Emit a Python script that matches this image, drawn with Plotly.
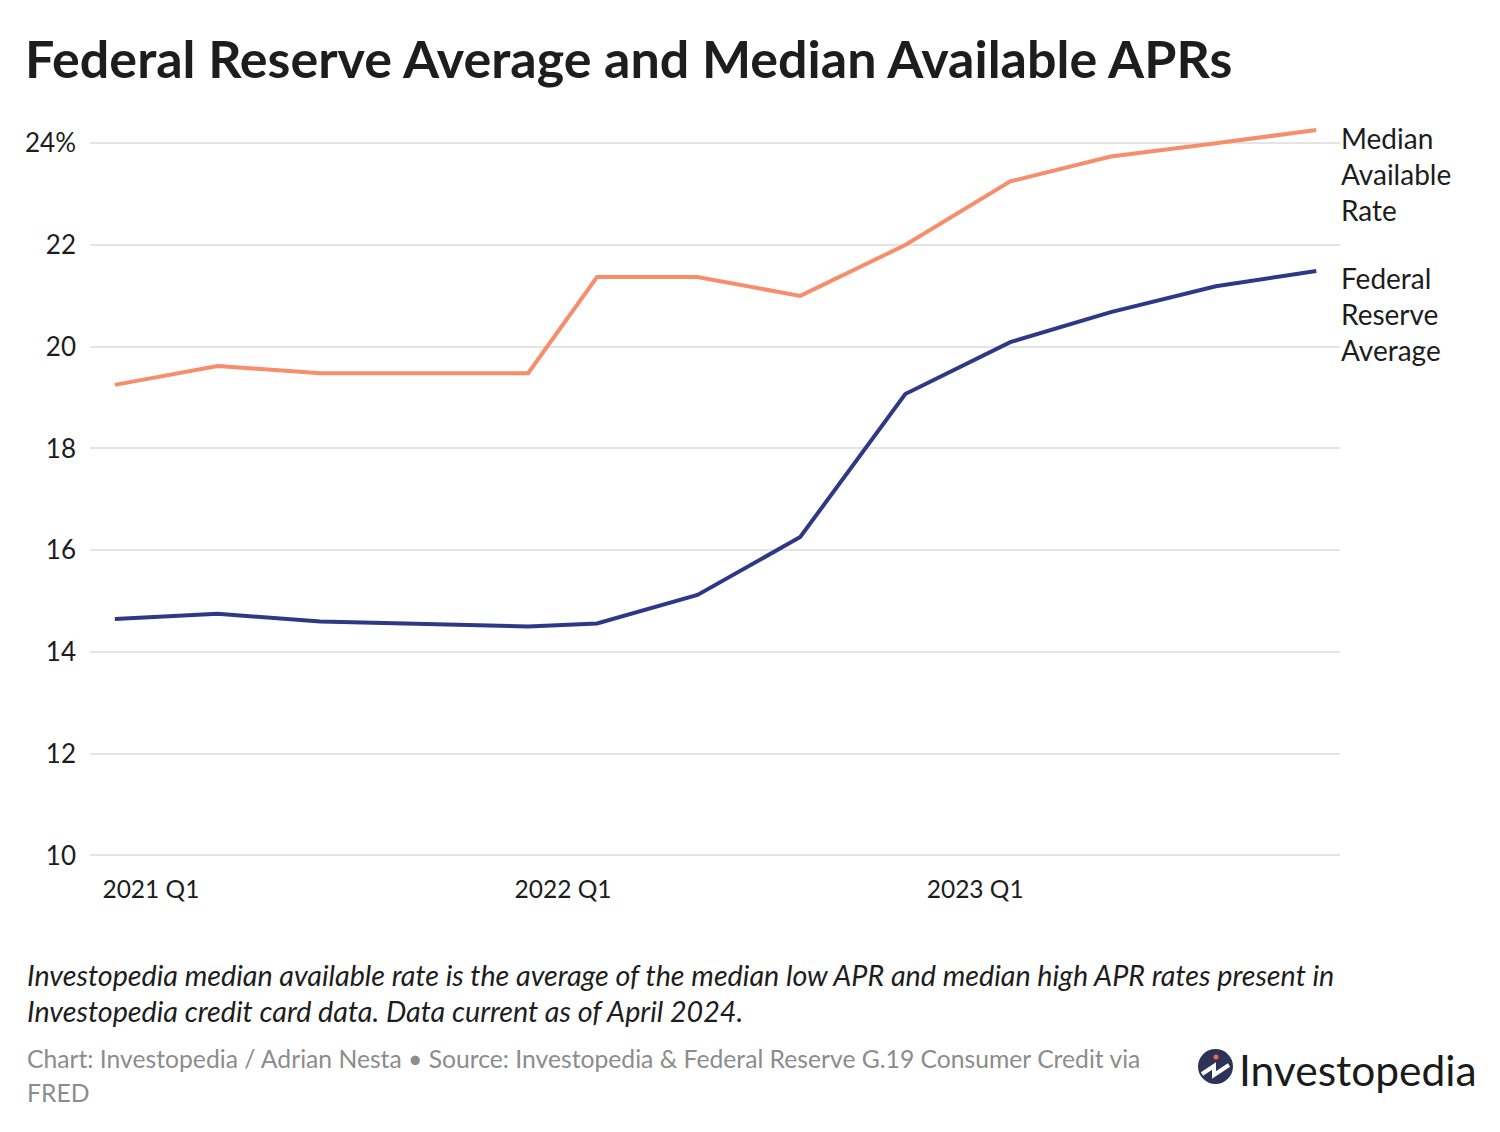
import plotly.graph_objects as go

# ---- data ----
dates = ["2021-01-12", "2021-04-13", "2021-07-13", "2021-10-14", "2022-01-13",
         "2022-03-15", "2022-06-12", "2022-09-11", "2022-12-13", "2023-03-16",
         "2023-06-13", "2023-09-14", "2023-12-12"]
median_rate = [19.25, 19.62, 19.48, 19.48, 19.48, 21.37, 21.37, 21.0, 22.0,
               23.25, 23.74, 24.0, 24.26]
fed_average = [14.65, 14.75, 14.6, 14.54, 14.5, 14.56, 15.12, 16.26, 19.07,
               20.09, 20.68, 21.19, 21.49]
x_tick_vals = ["2021-01-01", "2022-01-01", "2023-01-01"]
x_tick_text = ["2021 Q1", "2022 Q1", "2023 Q1"]
y_tick_vals = [10, 12, 14, 16, 18, 20, 22, 24]
y_tick_text = ["10", "12", "14", "16", "18", "20", "22", "24%"]

ORANGE = "#f88d6c"
BLUE = "#2e3886"
TEXT = "#1d1d1d"
FONT = "Lato"

OFF = 8  # page offset of the figure
W, H = 1500, 1132
L, R, T, B = 82, 168, 120, 282
PW, PH = W - L - R, H - T - B


def px(x):
    return (x - OFF - L) / PW


def py(y):
    return (H - B - (y - OFF)) / PH


fig = go.Figure()
fig.add_trace(go.Scatter(x=dates, y=median_rate, mode="lines",
                         line=dict(color=ORANGE, width=4), name="Median Available Rate"))
fig.add_trace(go.Scatter(x=dates, y=fed_average, mode="lines",
                         line=dict(color=BLUE, width=4), name="Federal Reserve Average"))

annotations = []
# series labels
for lines, yval, first in [(["Median", "Available", "Rate"], median_rate[-1], -8),
                           (["Federal", "Reserve", "Average"], fed_average[-1], -7)]:
    for i, t in enumerate(lines):
        annotations.append(dict(text=t, xref="paper", x=1.0, xanchor="left", xshift=-1,
                                yref="y", y=yval, yanchor="middle", yshift=first - 36 * i,
                                showarrow=False, font=dict(family=FONT, size=28, color=TEXT)))

# footnotes
notes = [("Investopedia median available rate is the average of the median low APR and median high APR rates present in", 975, TEXT, 28.7, True),
         ("Investopedia credit card data. Data current as of April 2024.", 1011, TEXT, 28.7, True),
         ("Chart: Investopedia / Adrian Nesta • Source: Investopedia & Federal Reserve G.19 Consumer Credit via", 1058, "#8c8c8c", 24.7, False),
         ("FRED", 1092, "#8c8c8c", 24.7, False)]
for t, yy, col, sz, it in notes:
    annotations.append(dict(text=f"<i>{t}</i>" if it else t, xref="paper", x=px(25), xanchor="left",
                            yref="paper", y=py(yy), yanchor="middle", showarrow=False,
                            font=dict(family=FONT, size=sz, color=col)))

# logo text
annotations.append(dict(text="Investopedia", xref="paper", x=px(1237), xanchor="left",
                        yref="paper", y=py(1069), yanchor="middle", showarrow=False,
                        font=dict(family=FONT, size=42.5, color="#1b1b1b")))

shapes = [
    dict(type="circle", xref="paper", yref="paper", x0=px(1198), x1=px(1233),
         y0=py(1084), y1=py(1049), fillcolor="#2c3357", line=dict(width=0)),
    dict(type="path", xref="paper", yref="paper",
         path=f"M {px(1202)},{py(1074)} L {px(1214)},{py(1066)} L {px(1214)},{py(1075)} L {px(1229)},{py(1065)}",
         line=dict(color="white", width=4)),
    dict(type="circle", xref="paper", yref="paper", x0=px(1213.5), x1=px(1218.5),
         y0=py(1059.5), y1=py(1054.5), fillcolor="#f26a3c", line=dict(width=0)),
]

fig.update_layout(
    width=W, height=H,
    margin=dict(l=L, r=R, t=T, b=B),
    paper_bgcolor="white", plot_bgcolor="white",
    showlegend=False,
    title=dict(text="<b>Federal Reserve Average and Median Available APRs</b>",
               x=(25 - OFF) / W, xref="container", xanchor="left",
               y=1 - (60 - OFF) / H, yref="container", yanchor="middle",
               font=dict(family=FONT, size=52, color=TEXT)),
    xaxis=dict(type="date", range=["2020-12-21", "2024-01-02"],
               tickvals=x_tick_vals, ticktext=x_tick_text,
               ticklabelposition="outside right", showgrid=False, zeroline=False,
               showline=False, ticks="", tickfont=dict(family=FONT, size=24.5, color=TEXT),
               ticklabelstandoff=14),
    yaxis=dict(range=[9.95, 24.3], tickvals=y_tick_vals, ticktext=y_tick_text,
               showgrid=True, gridcolor="#e4e4e4", gridwidth=2, zeroline=False,
               showline=False, ticks="", tickfont=dict(family=FONT, size=26, color=TEXT),
               ticklabelstandoff=13),
    annotations=annotations,
    shapes=shapes,
)

fig.write_html("out.html")
